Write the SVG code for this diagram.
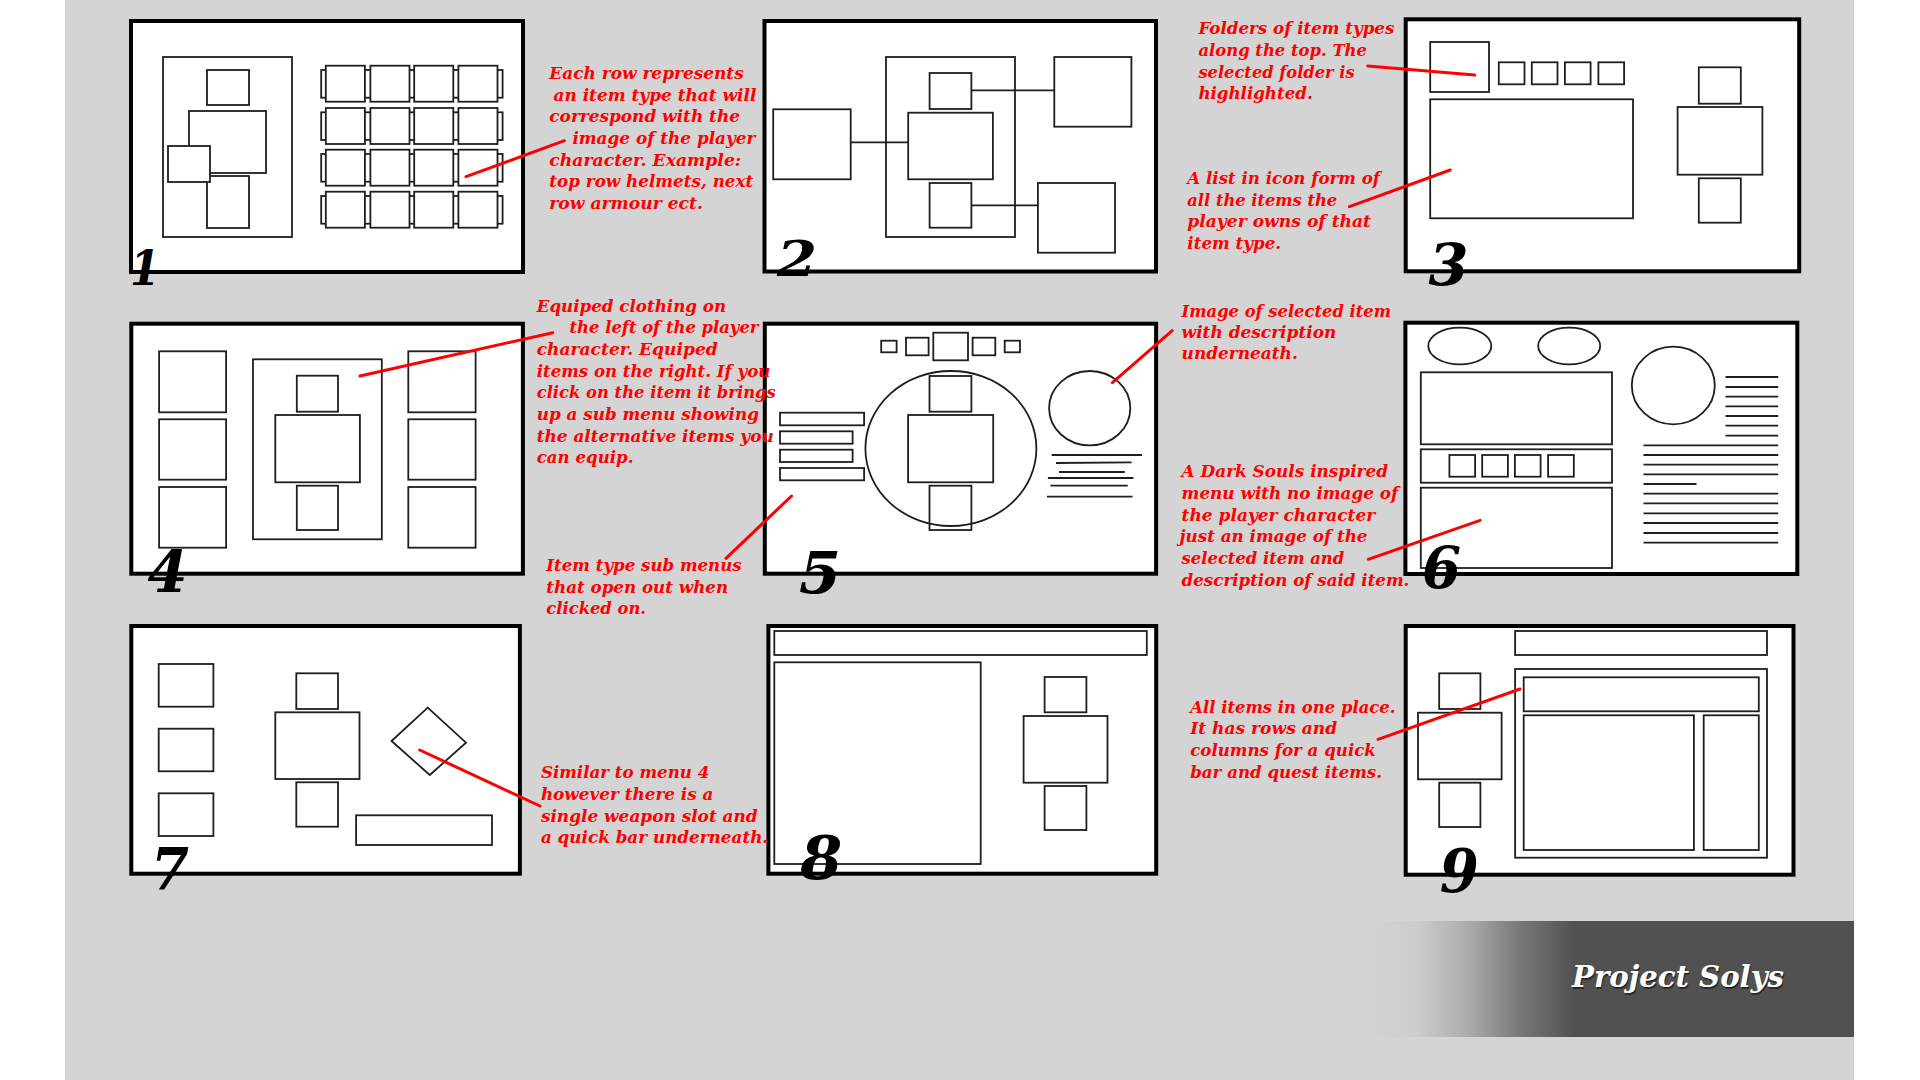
<svg xmlns="http://www.w3.org/2000/svg" width="1920" height="1080" viewBox="0 0 1920 1080">
<style>
.frame{fill:#fff;stroke:#000;stroke-width:4}
.box{fill:#fff;stroke:#1e1e1e;stroke-width:1.8}
.ln{fill:none;stroke:#1e1e1e;stroke-width:1.8}
.note{font-family:"DejaVu Serif","Liberation Serif",serif;font-weight:bold;font-style:italic;font-size:17px;fill:#ff0000}
.num{font-family:"DejaVu Serif","Liberation Serif",serif;font-weight:bold;font-style:italic;fill:#000;text-anchor:middle}
.lead{stroke:#ff0000;stroke-width:3;stroke-linecap:round}
</style>
<defs>
<linearGradient id="fade" gradientUnits="userSpaceOnUse" x1="1365" y1="0" x2="1575" y2="0">
<stop offset="0" stop-color="#515151" stop-opacity="0"/>
<stop offset="0.25" stop-color="#515151" stop-opacity="0.06"/>
<stop offset="0.5" stop-color="#515151" stop-opacity="0.32"/>
<stop offset="0.75" stop-color="#515151" stop-opacity="0.72"/>
<stop offset="1" stop-color="#515151" stop-opacity="1"/>
</linearGradient>
</defs>
<rect x="0" y="0" width="1920" height="1080" fill="#fff"/>
<rect x="65" y="0" width="1789" height="1080" fill="#d4d4d4"/>

<g id="banner">
<rect x="1360" y="921" width="494" height="116" fill="url(#fade)"/>
<text x="1679" y="989" font-family="DejaVu Serif, Liberation Serif, serif" font-weight="bold" font-style="italic" font-size="30" fill="#000" fill-opacity="0.5" text-anchor="middle" textLength="212" lengthAdjust="spacingAndGlyphs">Project Solys</text>
<text x="1678" y="987" font-family="DejaVu Serif, Liberation Serif, serif" font-weight="bold" font-style="italic" font-size="30" fill="#fff" text-anchor="middle" textLength="212" lengthAdjust="spacingAndGlyphs">Project Solys</text>
</g>

<!-- Panel 1 -->
<g id="panel1">
<rect class="frame" x="131" y="21" width="392" height="251"/>
<rect class="box" x="163" y="57" width="129" height="180"/>
<rect class="box" x="207" y="70" width="42" height="35"/>
<rect class="box" x="189" y="111" width="77" height="62"/>
<rect class="box" x="207" y="176" width="42" height="52"/>
<rect class="box" x="168" y="146" width="42" height="36"/>
<g id="grid1">
<rect class="box" x="321.2" y="70" width="181.4" height="27.7"/>
<rect class="box" x="325.8" y="65.7" width="39.1" height="36"/>
<rect class="box" x="370.4" y="65.7" width="39.1" height="36"/>
<rect class="box" x="414.2" y="65.7" width="39.1" height="36"/>
<rect class="box" x="458.4" y="65.7" width="39.1" height="36"/>
<rect class="box" x="321.2" y="112.3" width="181.4" height="27.7"/>
<rect class="box" x="325.8" y="108" width="39.1" height="36"/>
<rect class="box" x="370.4" y="108" width="39.1" height="36"/>
<rect class="box" x="414.2" y="108" width="39.1" height="36"/>
<rect class="box" x="458.4" y="108" width="39.1" height="36"/>
<rect class="box" x="321.2" y="154" width="181.4" height="27.7"/>
<rect class="box" x="325.8" y="149.7" width="39.1" height="36"/>
<rect class="box" x="370.4" y="149.7" width="39.1" height="36"/>
<rect class="box" x="414.2" y="149.7" width="39.1" height="36"/>
<rect class="box" x="458.4" y="149.7" width="39.1" height="36"/>
<rect class="box" x="321.2" y="196" width="181.4" height="27.7"/>
<rect class="box" x="325.8" y="191.7" width="39.1" height="36"/>
<rect class="box" x="370.4" y="191.7" width="39.1" height="36"/>
<rect class="box" x="414.2" y="191.7" width="39.1" height="36"/>
<rect class="box" x="458.4" y="191.7" width="39.1" height="36"/>
</g>
<text class="num" x="145" y="285" font-size="48" textLength="30" lengthAdjust="spacingAndGlyphs">1</text>
</g>

<!-- Panel 2 -->
<g id="panel2">
<rect class="frame" x="764.5" y="21" width="391.5" height="250.5"/>
<rect class="box" x="886" y="57" width="129" height="180"/>
<line class="ln" x1="850.7" y1="142.3" x2="908.2" y2="142.3"/>
<line class="ln" x1="971.4" y1="90.3" x2="1054.3" y2="90.3"/>
<line class="ln" x1="971.4" y1="205.3" x2="1037.9" y2="205.3"/>
<rect class="box" x="773.2" y="109.3" width="77.5" height="70"/>
<rect class="box" x="929.6" y="73" width="41.8" height="36"/>
<rect class="box" x="908.2" y="112.7" width="84.7" height="66.6"/>
<rect class="box" x="929.6" y="183" width="41.8" height="44.7"/>
<rect class="box" x="1054.3" y="57" width="77.1" height="69.7"/>
<rect class="box" x="1037.9" y="183" width="77.1" height="69.7"/>
<text class="num" x="797" y="275.7" font-size="49" textLength="40" lengthAdjust="spacingAndGlyphs">2</text>
</g>

<!-- Panel 3 -->
<g id="panel3">
<rect class="frame" x="1405.7" y="19.3" width="393.5" height="252"/>
<rect class="box" x="1430.2" y="42" width="58.8" height="50"/>
<rect class="box" x="1498.8" y="62.3" width="25.7" height="22"/>
<rect class="box" x="1531.8" y="62.3" width="25.7" height="22"/>
<rect class="box" x="1564.9" y="62.3" width="25.7" height="22"/>
<rect class="box" x="1598.4" y="62.3" width="25.7" height="22"/>
<rect class="box" x="1430.2" y="99.3" width="202.8" height="119"/>
<rect class="box" x="1698.8" y="67.3" width="42" height="36.4"/>
<rect class="box" x="1677.6" y="107" width="84.8" height="67.7"/>
<rect class="box" x="1698.8" y="178.3" width="42" height="44.4"/>
<text class="num" x="1448.4" y="285" font-size="58" textLength="40" lengthAdjust="spacingAndGlyphs">3</text>
</g>

<!-- Panel 4 -->
<g id="panel4">
<rect class="frame" x="131.3" y="323.7" width="391.6" height="250"/>
<rect class="box" x="159.1" y="351.3" width="67" height="61"/>
<rect class="box" x="159.1" y="419.3" width="67" height="60.4"/>
<rect class="box" x="159.1" y="487" width="67" height="60.7"/>
<rect class="box" x="408.3" y="351.3" width="67.3" height="61"/>
<rect class="box" x="408.3" y="419.3" width="67.3" height="60.4"/>
<rect class="box" x="408.3" y="487" width="67.3" height="60.7"/>
<rect class="box" x="253" y="359.3" width="128.8" height="180"/>
<rect class="box" x="296.8" y="375.7" width="41.2" height="36"/>
<rect class="box" x="275.3" y="415" width="84.6" height="67.3"/>
<rect class="box" x="296.8" y="485.7" width="41.2" height="44.3"/>
<text class="num" x="167.5" y="592" font-size="58" textLength="40" lengthAdjust="spacingAndGlyphs">4</text>
</g>

<!-- Panel 5 -->
<g id="panel5">
<rect class="frame" x="764.8" y="323.7" width="391.3" height="250"/>
<rect class="box" x="881.2" y="340.7" width="15.4" height="11.6"/>
<rect class="box" x="906" y="337.7" width="22.6" height="17.6"/>
<rect class="box" x="933.3" y="332.7" width="34.7" height="27.6"/>
<rect class="box" x="972.6" y="337.7" width="22.7" height="17.6"/>
<rect class="box" x="1004.7" y="340.7" width="15.3" height="11.6"/>
<rect class="box" x="780" y="412.7" width="84.1" height="12.6"/>
<rect class="box" x="780" y="431.3" width="72.6" height="12.4"/>
<rect class="box" x="780" y="449.7" width="72.6" height="12.3"/>
<rect class="box" x="780" y="468" width="84.1" height="12.3"/>
<rect class="box" x="929.5" y="376" width="41.9" height="35.7"/>
<rect class="box" x="929.5" y="485.7" width="41.9" height="44.3"/>
<ellipse class="ln" cx="950.9" cy="448.5" rx="85.5" ry="77.5"/>
<rect class="box" x="908.1" y="415" width="85.1" height="67.3"/>
<ellipse class="ln" cx="1089.7" cy="408.2" rx="40.6" ry="37.2" stroke-width="2.2"/>
<line class="ln" x1="1051.7" y1="455" x2="1141.9" y2="455"/>
<line class="ln" x1="1056" y1="463" x2="1131.6" y2="462.3"/>
<line class="ln" x1="1059" y1="472" x2="1124.8" y2="472"/>
<line class="ln" x1="1047.9" y1="478" x2="1133.3" y2="478"/>
<line class="ln" x1="1050.4" y1="485.7" x2="1127.8" y2="485.7"/>
<line class="ln" x1="1047" y1="496.7" x2="1132.5" y2="496.7"/>
<text class="num" x="820" y="593" font-size="58" textLength="42" lengthAdjust="spacingAndGlyphs">5</text>
</g>

<!-- Panel 6 -->
<g id="panel6">
<rect class="frame" x="1405.4" y="322.7" width="391.9" height="251.3"/>
<ellipse class="ln" cx="1459.8" cy="346" rx="31.5" ry="18.3"/>
<ellipse class="ln" cx="1569.2" cy="346" rx="31" ry="18.3"/>
<rect class="box" x="1420.8" y="372.3" width="191.2" height="72"/>
<rect class="box" x="1420.8" y="449.3" width="191.2" height="33.4"/>
<rect class="box" x="1449.4" y="455" width="25.7" height="21.7"/>
<rect class="box" x="1482.2" y="455" width="25.7" height="21.7"/>
<rect class="box" x="1514.9" y="455" width="25.7" height="21.7"/>
<rect class="box" x="1548.1" y="455" width="25.7" height="21.7"/>
<rect class="box" x="1420.8" y="487.7" width="191.2" height="80.3"/>
<ellipse class="ln" cx="1673.3" cy="385.5" rx="41.5" ry="38.8"/>
<g class="ln">
<line x1="1725.5" y1="377" x2="1778.2" y2="377"/>
<line x1="1725.5" y1="387" x2="1778.2" y2="387"/>
<line x1="1725.5" y1="396.7" x2="1778.2" y2="396.7"/>
<line x1="1725.5" y1="406.3" x2="1778.2" y2="406.3"/>
<line x1="1725.5" y1="416" x2="1778.2" y2="416"/>
<line x1="1725.5" y1="425.7" x2="1778.2" y2="425.7"/>
<line x1="1725.5" y1="435.7" x2="1778.2" y2="435.7"/>
<line x1="1643.5" y1="445.3" x2="1778.2" y2="445.3"/>
<line x1="1643.5" y1="455" x2="1778.2" y2="455"/>
<line x1="1643.5" y1="464.7" x2="1778.2" y2="464.7"/>
<line x1="1643.5" y1="474.3" x2="1778.2" y2="474.3"/>
<line x1="1643.5" y1="484" x2="1696.5" y2="484"/>
<line x1="1643.5" y1="493.7" x2="1778.2" y2="493.7"/>
<line x1="1643.5" y1="503.3" x2="1778.2" y2="503.3"/>
<line x1="1643.5" y1="513.3" x2="1778.2" y2="513.3"/>
<line x1="1643.5" y1="523" x2="1778.2" y2="523"/>
<line x1="1643.5" y1="533" x2="1778.2" y2="533"/>
<line x1="1643.5" y1="542.7" x2="1778.2" y2="542.7"/>
</g>
<text class="num" x="1441.5" y="588" font-size="58" textLength="39" lengthAdjust="spacingAndGlyphs">6</text>
</g>

<!-- Panel 7 -->
<g id="panel7">
<rect class="frame" x="131.3" y="626" width="388.6" height="247.7"/>
<rect class="box" x="158.7" y="664" width="54.7" height="42.7"/>
<rect class="box" x="158.7" y="728.7" width="54.7" height="42.6"/>
<rect class="box" x="158.7" y="793.3" width="54.7" height="42.7"/>
<rect class="box" x="296.3" y="673.3" width="41.7" height="35.7"/>
<rect class="box" x="275.3" y="712.3" width="84.2" height="66.7"/>
<rect class="box" x="296.3" y="782.3" width="41.7" height="44.4"/>
<polygon class="box" points="427.7,707.7 466,742.7 429.8,775 391.5,741"/>
<rect class="box" x="356.1" y="815.3" width="135.9" height="29.7"/>
<text class="num" x="170" y="889" font-size="58" textLength="38" lengthAdjust="spacingAndGlyphs">7</text>
</g>

<!-- Panel 8 -->
<g id="panel8">
<rect class="frame" x="768.4" y="626" width="387.8" height="247.7"/>
<rect class="box" x="774.3" y="631" width="372.5" height="24"/>
<rect class="box" x="774.3" y="662.3" width="206.4" height="201.7"/>
<rect class="box" x="1044.6" y="677" width="41.8" height="35.3"/>
<rect class="box" x="1023.6" y="716" width="83.9" height="66.7"/>
<rect class="box" x="1044.6" y="786" width="41.8" height="44"/>
<text class="num" x="821.2" y="879" font-size="60" textLength="42" lengthAdjust="spacingAndGlyphs">8</text>
</g>

<!-- Panel 9 -->
<g id="panel9">
<rect class="frame" x="1405.7" y="626" width="387.8" height="248.7"/>
<rect class="box" x="1515.1" y="631" width="251.9" height="24"/>
<rect class="box" x="1515.1" y="669" width="251.9" height="188.7"/>
<rect class="box" x="1523.7" y="677.3" width="235.1" height="34"/>
<rect class="box" x="1523.7" y="715.3" width="170.2" height="134.7"/>
<rect class="box" x="1703.7" y="715.3" width="55.1" height="134.7"/>
<rect class="box" x="1439.2" y="673.3" width="41.2" height="35.7"/>
<rect class="box" x="1418" y="712.7" width="83.6" height="66.6"/>
<rect class="box" x="1439.2" y="782.7" width="41.2" height="44.3"/>
<text class="num" x="1459.2" y="892" font-size="60" textLength="39" lengthAdjust="spacingAndGlyphs">9</text>
</g>

<!-- Notes -->
<g id="note1" class="note">
<text x="549.3" y="79" textLength="194.4" lengthAdjust="spacingAndGlyphs">Each row represents</text>
<text x="553.5" y="100.7" textLength="202.9" lengthAdjust="spacingAndGlyphs">an item type that will</text>
<text x="549.3" y="122.3" textLength="190.7" lengthAdjust="spacingAndGlyphs">correspond with the</text>
<text x="572.4" y="144.3" textLength="183" lengthAdjust="spacingAndGlyphs">image of the player</text>
<text x="549.3" y="165.7" textLength="191.9" lengthAdjust="spacingAndGlyphs">character. Example:</text>
<text x="549.3" y="187.3" textLength="204" lengthAdjust="spacingAndGlyphs">top row helmets, next</text>
<text x="549.3" y="209" textLength="153.6" lengthAdjust="spacingAndGlyphs">row armour ect.</text>
</g>
<g id="note3a" class="note">
<text x="1198.4" y="34" textLength="196" lengthAdjust="spacingAndGlyphs">Folders of item types</text>
<text x="1198.4" y="55.7" textLength="168.6" lengthAdjust="spacingAndGlyphs">along the top. The</text>
<text x="1198.4" y="77.7" textLength="156.3" lengthAdjust="spacingAndGlyphs">selected folder is</text>
<text x="1198.4" y="99.3" textLength="114.3" lengthAdjust="spacingAndGlyphs">highlighted.</text>
</g>
<g id="note3b" class="note">
<text x="1187.3" y="184" textLength="192.7" lengthAdjust="spacingAndGlyphs">A list in icon form of</text>
<text x="1187.3" y="205.7" textLength="149.8" lengthAdjust="spacingAndGlyphs">all the items the</text>
<text x="1187.3" y="227.3" textLength="183.7" lengthAdjust="spacingAndGlyphs">player owns of that</text>
<text x="1187.3" y="249" textLength="93.9" lengthAdjust="spacingAndGlyphs">item type.</text>
</g>
<g id="note4" class="note">
<text x="536.7" y="311.7" textLength="189.4" lengthAdjust="spacingAndGlyphs">Equiped clothing on</text>
<text x="569.5" y="333.3" textLength="189" lengthAdjust="spacingAndGlyphs">the left of the player</text>
<text x="536.7" y="355" textLength="181" lengthAdjust="spacingAndGlyphs">character. Equiped</text>
<text x="536.7" y="376.7" textLength="233.6" lengthAdjust="spacingAndGlyphs">items on the right. If you</text>
<text x="536.7" y="398.3" textLength="239" lengthAdjust="spacingAndGlyphs">click on the item it brings</text>
<text x="536.7" y="420" textLength="222.2" lengthAdjust="spacingAndGlyphs">up a sub menu showing</text>
<text x="536.7" y="441.7" textLength="237" lengthAdjust="spacingAndGlyphs">the alternative items you</text>
<text x="536.7" y="463.3" textLength="96.8" lengthAdjust="spacingAndGlyphs">can equip.</text>
</g>
<g id="note5a" class="note">
<text x="546.3" y="571" textLength="195.3" lengthAdjust="spacingAndGlyphs">Item type sub menus</text>
<text x="546.3" y="592.7" textLength="181.8" lengthAdjust="spacingAndGlyphs">that open out when</text>
<text x="546.3" y="614" textLength="99.7" lengthAdjust="spacingAndGlyphs">clicked on.</text>
</g>
<g id="note5b" class="note">
<text x="1181.6" y="316.7" textLength="209.4" lengthAdjust="spacingAndGlyphs">Image of selected item</text>
<text x="1181.6" y="338.3" textLength="154.7" lengthAdjust="spacingAndGlyphs">with description</text>
<text x="1181.6" y="359.3" textLength="116.2" lengthAdjust="spacingAndGlyphs">underneath.</text>
</g>
<g id="note6" class="note">
<text x="1181.6" y="477.3" textLength="206.4" lengthAdjust="spacingAndGlyphs">A Dark Souls inspired</text>
<text x="1181.6" y="499" textLength="216.7" lengthAdjust="spacingAndGlyphs">menu with no image of</text>
<text x="1181.6" y="520.7" textLength="193.6" lengthAdjust="spacingAndGlyphs">the player character</text>
<text x="1179.5" y="542.3" textLength="188" lengthAdjust="spacingAndGlyphs">just an image of the</text>
<text x="1181.6" y="564" textLength="162.6" lengthAdjust="spacingAndGlyphs">selected item and</text>
<text x="1181.6" y="585.7" textLength="227.8" lengthAdjust="spacingAndGlyphs">description of said item.</text>
</g>
<g id="note7" class="note">
<text x="540.9" y="778.3" textLength="168.4" lengthAdjust="spacingAndGlyphs">Similar to menu 4</text>
<text x="540.9" y="800" textLength="172.6" lengthAdjust="spacingAndGlyphs">however there is a</text>
<text x="540.9" y="821.7" textLength="216.8" lengthAdjust="spacingAndGlyphs">single weapon slot and</text>
<text x="540.9" y="843.3" textLength="227.3" lengthAdjust="spacingAndGlyphs">a quick bar underneath.</text>
</g>
<g id="note9" class="note">
<text x="1190.2" y="712.7" textLength="205.3" lengthAdjust="spacingAndGlyphs">All items in one place.</text>
<text x="1190.2" y="734.3" textLength="147" lengthAdjust="spacingAndGlyphs">It has rows and</text>
<text x="1190.2" y="756" textLength="185.7" lengthAdjust="spacingAndGlyphs">columns for a quick</text>
<text x="1190.2" y="777.7" textLength="191.8" lengthAdjust="spacingAndGlyphs">bar and quest items.</text>
</g>

<g id="connectors">
<line class="lead" x1="466" y1="176.7" x2="564.4" y2="140.7"/>
<line class="lead" x1="1367.8" y1="66" x2="1474.7" y2="75"/>
<line class="lead" x1="1349.4" y1="206.7" x2="1450.2" y2="170"/>
<line class="lead" x1="359.9" y1="376" x2="552.7" y2="332.7"/>
<line class="lead" x1="791.5" y1="496" x2="726" y2="558.3"/>
<line class="lead" x1="1112.4" y1="382.7" x2="1172.2" y2="330.7"/>
<line class="lead" x1="1368.2" y1="559.3" x2="1480.1" y2="520.3"/>
<line class="lead" x1="419.7" y1="750" x2="540" y2="806"/>
<line class="lead" x1="1378" y1="739.3" x2="1520" y2="689"/>
</g>
</svg>
